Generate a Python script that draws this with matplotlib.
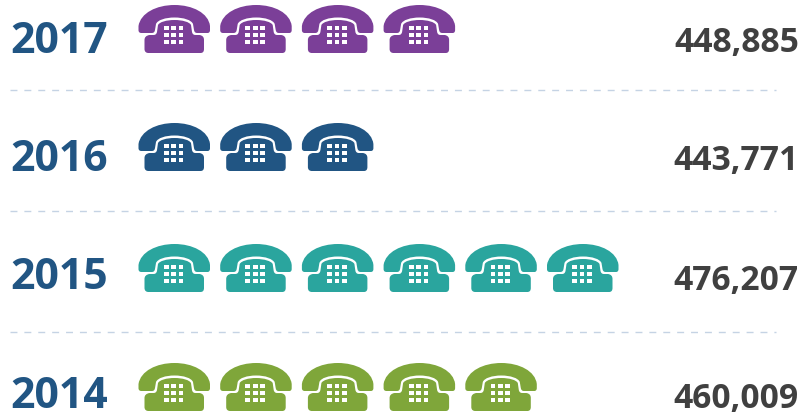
import matplotlib
matplotlib.use("Agg")
import matplotlib.pyplot as plt
from matplotlib.path import Path
from matplotlib.patches import PathPatch, Rectangle
from matplotlib.transforms import Affine2D

years = ["2017", "2016", "2015", "2014"]
totals = ["448,885", "443,771", "476,207", "460,009"]
icon_counts = [4, 3, 6, 5]
colors = ["#7B3F98", "#215583", "#2AA59E", "#7FA63A"]

row_tops = [5, 123, 244, 363]
year_base = [53, 171, 289, 408]
total_base = [52, 170, 290, 408]
line_y = [90, 211, 332]
icon_x0, icon_step = 138.5, 81.7

M, L, C, Z = Path.MOVETO, Path.LINETO, Path.CURVE4, Path.CLOSEPOLY
phone = [
    (M, (0, 21)),
    (C, (2, 8)), (C, (18, 0)), (C, (36, 0)),
    (C, (54, 0)), (C, (70, 8)), (C, (71.5, 21)),
    (L, (71.5, 25)),
    (C, (71.5, 27)), (C, (70.5, 28)), (C, (69, 28)),
    (L, (59, 28)),
    (C, (56.5, 28)), (C, (56, 27)), (C, (55.5, 25)),
    (L, (54.5, 19)),
    (C, (53, 15)), (C, (45, 12.5)), (C, (36, 12.5)),
    (C, (27, 12.5)), (C, (19, 15)), (C, (17.5, 19)),
    (L, (16.5, 25)),
    (C, (16, 27)), (C, (15.5, 28)), (C, (13, 28)),
    (L, (3, 28)),
    (C, (1, 28)), (C, (0, 27)), (C, (0, 25)),
    (Z, (0, 21)),
    # body
    (M, (18.5, 27)),
    (L, (19.5, 20)),
    (C, (21, 17)), (C, (28, 15)), (C, (36, 15)),
    (C, (44, 15)), (C, (51, 17)), (C, (52.5, 20)),
    (L, (53.5, 27)),
    (C, (54, 29)), (C, (55, 30)), (C, (57, 30)),
    (L, (61, 30)),
    (C, (64, 30.5)), (C, (65.5, 32)), (C, (65.5, 35)),
    (L, (65.5, 44)),
    (C, (65.5, 47)), (C, (64, 48)), (C, (62, 48)),
    (L, (10, 48)),
    (C, (8, 48)), (C, (6, 47)), (C, (6, 44)),
    (L, (6, 35)),
    (C, (6, 32)), (C, (8, 30.5)), (C, (11, 30)),
    (L, (15, 30)),
    (C, (17, 30)), (C, (18, 29)), (C, (18.5, 27)),
    (Z, (18.5, 27)),
]
phone_path = Path([p for _, p in phone], [c for c, _ in phone])

fig = plt.figure(figsize=(8.04, 4.17), dpi=100, facecolor="white")
ax = fig.add_axes([0, 0, 1, 1])
ax.set_xlim(0, 804)
ax.set_ylim(417, 0)
ax.axis("off")

for y in line_y:
    ax.plot([10, 776], [y, y], color="#C5D3E4", lw=1.0, dashes=(5, 5))

for i, year in enumerate(years):
    ax.text(10, year_base[i], year, color="#215583", fontsize=30.8, fontweight="bold",
            family="Open Sans", va="baseline", ha="left")
    ax.text(799, total_base[i], totals[i], color="#404040", fontsize=24.2, fontweight="bold",
            family="Open Sans", va="baseline", ha="right")
    for n in range(icon_counts[i]):
        x0 = icon_x0 + n * icon_step
        tr = Affine2D().translate(x0, row_tops[i]) + ax.transData
        ax.add_patch(PathPatch(phone_path, facecolor=colors[i], edgecolor="none", transform=tr))
        for r in range(3):
            for c in range(3):
                ax.add_patch(Rectangle((25.3 + c * 7.4, 21 + r * 7), 4.8, 4, facecolor="white",
                                       edgecolor="none", transform=tr))

fig.savefig("out.png", dpi=100)
